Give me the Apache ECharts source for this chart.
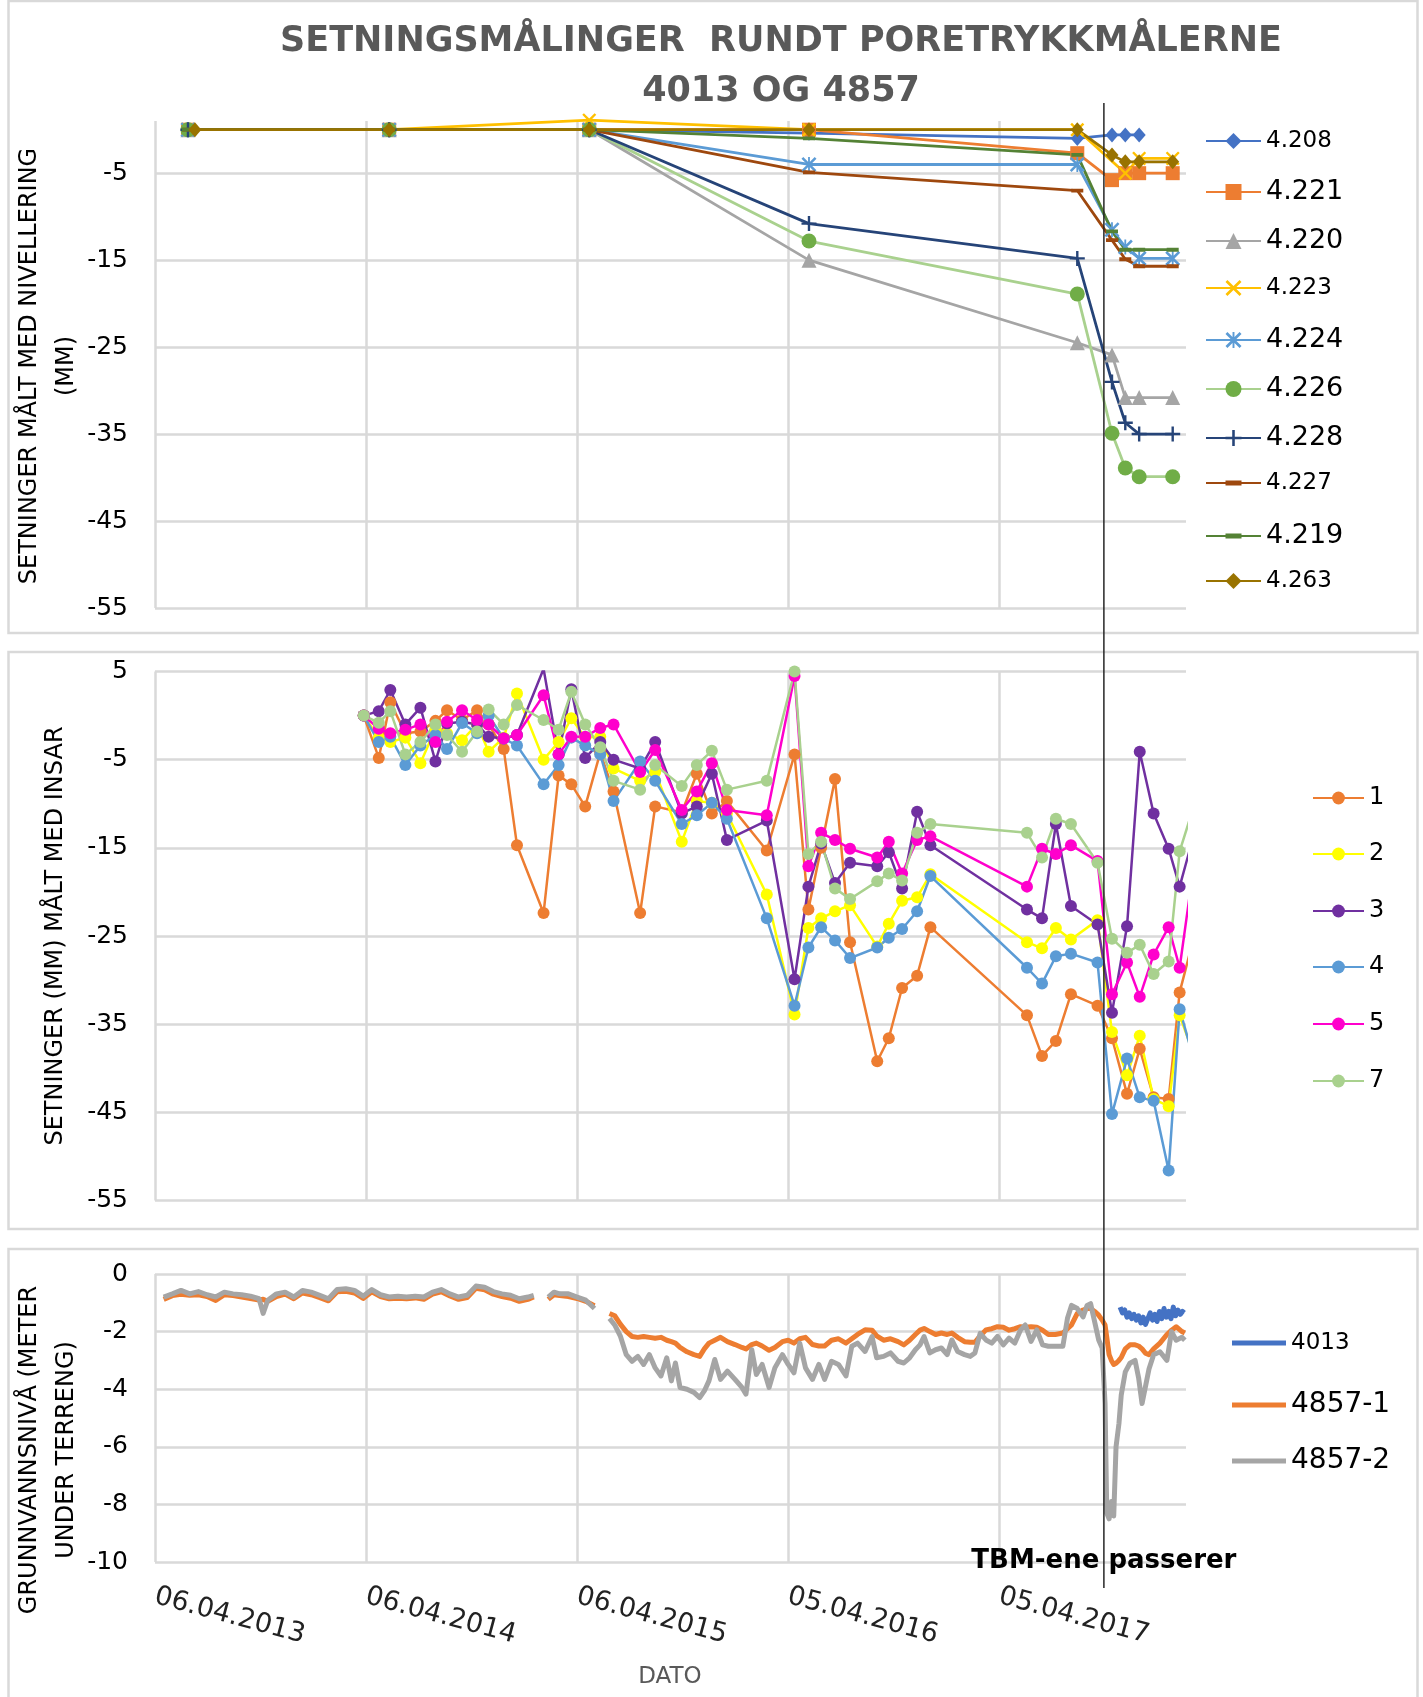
<!DOCTYPE html>
<html><head><meta charset="utf-8">
<script src="https://cdn.jsdelivr.net/npm/echarts@6/dist/echarts.min.js"></script>
<style>html,body{margin:0;padding:0;background:#fff}#c{width:1423px;height:1697px}</style>
</head><body><div id="c"></div>
<script>
// ---------- DATA ----------
const BASE_DATE = '2013-04-06';           // first x tick, day 0
const AXIS_END = '2018-02-22';
const TBM_DATE = '2017-10-03';
const xTickLabels = ['06.04.2013','06.04.2014','06.04.2015','05.04.2016','05.04.2017'];

// Panel 1: levelling
const levNames = ['4.208','4.221','4.220','4.223','4.224','4.226','4.228','4.227','4.219','4.263'];
const levDates = ['2013-06-02','2013-06-14','2014-05-16','2015-04-27','2016-05-11','2017-08-18','2017-10-17','2017-11-09','2017-12-03','2018-01-30'];
const lev4208 = [0, null, 0, 0, -0.4, -1.0, -0.6, -0.6, -0.6, null];
const lev4221 = [0, null, 0, 0, 0, -2.7, -5.8, -5.0, -5.0, -5.0];
const lev4220 = [0, null, 0, 0, -15.0, -24.5, -25.9, -30.8, -30.8, -30.8];
const lev4223 = [0, null, 0, 1.1, 0, 0, null, -5.0, -3.3, -3.3];
const lev4224 = [0, null, 0, 0, -4.0, -4.0, -11.5, -13.5, -14.8, -14.8];
const lev4226 = [0, null, 0, 0, -12.8, -18.9, -34.9, -38.9, -39.9, -39.9];
const lev4228 = [0, null, 0, 0, -10.8, -14.8, -29.0, -33.7, -35.0, -35.0];
const lev4227 = [0, null, 0, 0, -4.9, -7.0, -12.7, -14.9, -15.7, -15.7];
const lev4219 = [0, null, 0, 0, -1.0, -2.9, -11.7, -13.8, -13.8, -13.8];
const lev4263 = [null, 0, 0, 0, 0, 0, -2.9, -3.7, -3.7, -3.7];

// Panel 2: InSAR
const insarNames = ['1','2','3','4','5','7'];
const insarDates = ['2014-04-02','2014-04-28','2014-05-18','2014-06-13','2014-07-09','2014-08-04','2014-08-24','2014-09-19','2014-10-15','2014-11-04',
 '2014-11-30','2014-12-23','2015-02-07','2015-03-05','2015-03-27','2015-04-20','2015-05-16','2015-06-08','2015-07-24','2015-08-19',
 '2015-10-04','2015-10-30','2015-11-25','2015-12-21','2016-02-28','2016-04-16','2016-05-10','2016-06-01','2016-06-25','2016-07-21',
 '2016-09-06','2016-09-26','2016-10-19','2016-11-14','2016-12-07','2017-05-23','2017-06-18','2017-07-12','2017-08-07','2017-09-22',
 '2017-10-17','2017-11-12','2017-12-04','2017-12-28','2018-01-23','2018-02-11','2018-03-16'];
const insar1 = [0,-4.8,1.5,-2.0,-1.8,-0.6,0.6,-0.5,0.6,-1.0, -3.8,-14.7,-22.4,-6.8,-7.8,-10.3,-4.2,-8.6,-22.4,-10.3,
 -11.0,-6.6,-11.1,-9.7,-15.3,-4.4,-22.0,-15.0,-7.2,-25.7, -39.2,-36.6,-30.9,-29.5,-24.0,-34.0,-38.6,-36.9,-31.6,-32.9,
 -36.6,-42.9,-37.8,-43.3,-43.5,-31.4,-23.0];
const insar2 = [0,-2.5,-3.0,-2.5,-5.4,-1.5,-2.0,-2.8,-1.0,-4.1, -2.5,2.5,-5.0,-3.0,-0.3,-2.5,-2.4,-6.0,-7.4,-6.4,
 -14.3,-9.7,-9.9,-11.1,-20.3,-33.9,-24.1,-23.0,-22.2,-21.5, -26.2,-23.6,-21.0,-20.6,-18.0,-25.7,-26.4,-24.1,-25.4,-23.2,
 -35.9,-40.8,-36.3,-43.5,-44.3,-34.0,-40.0];
const insar3 = [0,0.5,2.9,-1.0,0.9,-5.2,-0.9,-0.7,-1.0,-2.4, -2.6,-2.2,5.3,-4.4,3.0,-4.8,-3.0,-5.0,-6.0,-3.0,
 -11.1,-10.3,-6.6,-14.1,-11.9,-29.9,-19.4,-14.5,-19.0,-16.7, -17.1,-15.5,-19.6,-10.9,-14.7,-22.0,-23.0,-12.3,-21.6,-23.7,
 -33.7,-23.9,-4.1,-11.1,-15.1,-19.4,-11.5];
const insar4 = [0,-3.0,-2.4,-5.6,-3.4,-2.2,-3.8,-0.85,-2.0,0.0, -2.6,-3.4,-7.8,-5.6,-2.5,-3.4,-4.4,-9.7,-5.2,-7.4,
 -12.3,-11.3,-9.9,-11.7,-23.0,-32.9,-26.3,-24.0,-25.5,-27.5, -26.3,-25.2,-24.2,-22.2,-18.2,-28.6,-30.4,-27.3,-27.0,-28.0,
 -45.2,-38.9,-43.3,-43.7,-51.6,-33.3,-41.0];
const insar5 = [0,-1.5,-2.0,-1.6,-1.0,-3.0,-0.7,0.6,-0.5,-1.0, -2.6,-2.2,2.3,-4.4,-2.4,-2.4,-1.4,-1.0,-6.4,-3.9,
 -10.7,-8.6,-5.4,-10.7,-11.3,4.5,-17.1,-13.3,-14.1,-15.1, -16.1,-14.3,-17.9,-14.1,-13.7,-19.4,-15.1,-15.7,-14.7,-16.5,
 -31.6,-28.0,-31.9,-27.1,-24.0,-28.6,-13.0];
const insar7 = [0,-0.8,0.5,-4.4,-3.0,-1.0,-2.2,-4.1,-1.8,0.7, -1.0,1.2,-0.5,-1.6,2.7,-1.0,-3.6,-7.4,-8.4,-5.6,
 -8.0,-5.6,-4.0,-8.4,-7.4,5.0,-15.7,-14.3,-19.6,-20.8, -18.8,-17.9,-18.7,-13.3,-12.3,-13.3,-16.1,-11.7,-12.3,-16.7,
 -25.3,-26.9,-26.0,-29.3,-27.9,-15.4,-8.5];

// Panel 3: groundwater (days counted from BASE_DATE)
const gwNames = ['4013','4857-1','4857-2'];
const gwDay = [15,30,45,60,75,90,105,120,135,150,165,180,187,195,210,225,240,255,270,285,300,315,330,345,360,375,390,405,420,435,450,465,480,495,510,525,540,555,570,585,600,615,630,645,655,670,680,690,
 700,715,730,745,760,775,786,795,805,815,825,835,845,855,865,875,885,893,900,908,920,932,942,950,958,968,978,990,1003,1015,1022,1032,1040,1050,1062,1072,1085,1095,1105,1115,1125,1137,1148,1158,1170,1182,1195,1205,1215,1228,1240,1248,1260,1272,1285,
 1295,1305,1315,1323,1330,1340,1350,1360,1370,1378,1388,1400,1410,1418,1427,1437,1447,1457,1467,1477,1487,1497,1505,1515,1525,1535,1545,1557,1570,1578,1585,1595,1605,1612,1618,1625,1632,1638,1643,1646,1650,1654,1658,1662,1667,1671,1678,1686,1695,1701,1707,1713,1719,1727,1738,1750,1758,1766,1776,1781];
const gw4857_1 = [-0.88,-0.75,-0.70,-0.74,-0.72,-0.78,-0.92,-0.72,-0.75,-0.80,-0.85,-0.90,-0.88,-0.95,-0.78,-0.70,-0.86,-0.66,-0.72,-0.82,-0.93,-0.62,-0.60,-0.66,-0.85,-0.62,-0.78,-0.86,-0.84,-0.86,-0.83,-0.88,-0.70,-0.62,-0.76,-0.88,-0.82,-0.50,-0.55,-0.70,-0.78,-0.84,-0.95,-0.88,-0.80,null,-0.88,-0.72,
 -0.75,-0.78,-0.85,-0.95,-1.10,null,-1.37,-1.45,-1.75,-2.00,-2.17,-2.20,-2.17,-2.20,-2.23,-2.20,-2.30,-2.35,-2.40,-2.55,-2.70,-2.80,-2.86,-2.60,-2.40,-2.30,-2.20,-2.35,-2.45,-2.55,-2.60,-2.45,-2.40,-2.50,-2.65,-2.55,-2.35,-2.30,-2.40,-2.25,-2.20,-2.45,-2.50,-2.50,-2.30,-2.25,-2.40,-2.25,-2.10,-1.94,-1.95,-2.15,-2.30,-2.25,-2.35,
 -2.46,-2.30,-2.10,-1.95,-1.89,-2.00,-2.10,-2.05,-2.10,-2.05,-2.20,-2.35,-2.37,-2.37,-2.15,-1.94,-1.90,-1.83,-1.85,-1.95,-1.90,-1.83,-1.85,-1.83,-1.85,-1.95,-2.10,-2.10,-2.05,-1.90,-1.77,-1.37,-1.25,-1.20,-1.20,-1.30,-1.43,-1.60,-1.77,-2.20,-2.80,-3.00,-3.14,-3.10,-3.00,-2.90,-2.60,-2.46,-2.46,-2.50,-2.60,-2.75,-2.80,-2.60,-2.40,-2.10,-1.95,-1.83,-2.00,-2.05];
const gw4857_2 = [-0.80,-0.69,-0.57,-0.69,-0.61,-0.72,-0.80,-0.63,-0.69,-0.72,-0.77,-0.86,-1.37,-0.91,-0.69,-0.63,-0.80,-0.57,-0.63,-0.74,-0.86,-0.54,-0.51,-0.57,-0.77,-0.54,-0.72,-0.80,-0.77,-0.80,-0.77,-0.80,-0.63,-0.54,-0.69,-0.80,-0.74,-0.42,-0.46,-0.61,-0.69,-0.74,-0.86,-0.80,-0.74,null,-0.80,-0.63,
 -0.69,-0.69,-0.80,-0.91,-1.20,null,-1.54,-1.77,-2.17,-2.80,-3.03,-2.86,-3.14,-2.80,-3.26,-3.54,-2.91,-3.71,-3.09,-3.94,-4.00,-4.11,-4.29,-4.06,-3.71,-2.97,-3.66,-3.37,-3.66,-3.94,-4.17,-2.63,-3.49,-3.14,-3.94,-3.26,-2.80,-3.14,-3.43,-2.40,-3.26,-3.66,-3.14,-3.66,-3.03,-3.14,-3.54,-2.51,-2.40,-2.69,-2.17,-2.91,-2.86,-2.74,-3.03,
 -3.09,-2.91,-2.63,-2.46,-2.17,-2.74,-2.63,-2.57,-2.80,-2.29,-2.69,-2.80,-2.86,-2.74,-2.06,-2.29,-2.40,-2.17,-2.46,-2.23,-2.40,-1.94,-1.77,-2.34,-1.94,-2.46,-2.51,-2.51,-2.51,-1.54,-1.09,-1.20,-1.49,-1.09,-1.03,-1.66,-2.29,-2.57,-4.50,-8.30,-8.50,-7.90,-8.40,-6.00,-5.20,-4.20,-3.40,-3.10,-3.00,-3.60,-4.50,-3.90,-3.30,-2.80,-2.70,-3.00,-2.00,-2.30,-2.20,-2.30];
const gw4013Day = [1669,1673,1677,1681,1685,1689,1693,1697,1701,1705,1709,1713,1717,1721,1725,1729,1733,1737,1741,1745,1749,1753,1757,1761,1765,1769,1773,1777,1780];
const gw4013 = [-1.15,-1.35,-1.25,-1.50,-1.35,-1.55,-1.40,-1.60,-1.45,-1.70,-1.50,-1.75,-1.55,-1.35,-1.60,-1.40,-1.65,-1.30,-1.55,-1.20,-1.50,-1.30,-1.55,-1.15,-1.45,-1.25,-1.40,-1.30,-1.35];

// ---------- HELPERS ----------
const FONT = '"DejaVu Sans", Verdana, sans-serif';
const DAYMS = 864e5;
const [by, bm, bd] = BASE_DATE.split('-').map(Number);
const BASE_UTC = Date.UTC(by, bm - 1, bd);
function dayOf(s) { const [y, m, d] = s.split('-').map(Number); return Math.round((Date.UTC(y, m - 1, d) - BASE_UTC) / DAYMS); }
const X_MAX = dayOf(AXIS_END);
const GRID_C = '#D9D9D9';

const SYM_X = 'path://M0,1.2L1.2,0L5,3.8L8.8,0L10,1.2L6.2,5L10,8.8L8.8,10L5,6.2L1.2,10L0,8.8L3.8,5Z';
const SYM_PLUS = 'path://M4.2,0H5.8V4.2H10V5.8H5.8V10H4.2V5.8H0V4.2H4.2Z';
const SYM_AST = 'path://M0,1.2L1.2,0L5,3.8L8.8,0L10,1.2L6.2,5L10,8.8L8.8,10L5,6.2L1.2,10L0,8.8L3.8,5Z M4.4,0H5.6V10H4.4Z';
const SYM_DASH = 'path://M0,3.4H10V6.6H0Z M5,0L5.01,0L5,0.01Z M5,10L5.01,10L5,9.99Z';

const levValues = [lev4208, lev4221, lev4220, lev4223, lev4224, lev4226, lev4228, lev4227, lev4219, lev4263];
const levStyle = [
  {line:'#4472C4', mark:'#4472C4', sym:'diamond', size:[13,15]},
  {line:'#ED7D31', mark:'#ED7D31', sym:'rect', size:14},
  {line:'#A5A5A5', mark:'#A5A5A5', sym:'triangle', size:15},
  {line:'#FFC000', mark:'#FFC000', sym:SYM_X, size:14},
  {line:'#5B9BD5', mark:'#5B9BD5', sym:SYM_AST, size:15},
  {line:'#A9D18E', mark:'#70AD47', sym:'circle', size:15},
  {line:'#264478', mark:'#264478', sym:SYM_PLUS, size:15},
  {line:'#9E480E', mark:'#9E480E', sym:SYM_DASH, size:12},
  {line:'#548235', mark:'#548235', sym:SYM_DASH, size:12},
  {line:'#997300', mark:'#997300', sym:'diamond', size:[13,15]}
];
const insarValues = [insar1, insar2, insar3, insar4, insar5, insar7];
const insarColors = ['#ED7D31', '#FFFF00', '#7030A0', '#5B9BD5', '#FF00CC', '#A9D18E'];
const gwColors = ['#4472C4', '#ED7D31', '#A5A5A5'];

const series = [];
levNames.forEach((n, i) => {
  const st = levStyle[i];
  series.push({
    name: n, type: 'line', xAxisIndex: 0, yAxisIndex: 0, clip: false,
    data: levDates.map((d, j) => [dayOf(d), levValues[i][j]]).filter(p => p[1] !== null),
    symbol: st.sym, symbolSize: st.size, showSymbol: true,
    lineStyle: {color: st.line, width: 2.8}, itemStyle: {color: st.mark}
  });
});
insarNames.forEach((n, i) => {
  series.push({
    name: n, type: 'line', xAxisIndex: 1, yAxisIndex: 1, clip: true,
    data: insarDates.map((d, j) => [dayOf(d), insarValues[i][j]]),
    symbol: 'circle', symbolSize: 12, showSymbol: true,
    lineStyle: {color: insarColors[i], width: 2.5}, itemStyle: {color: insarColors[i]}
  });
});
const gwData = [
  gw4013Day.map((d, j) => [d, gw4013[j]]),
  gwDay.map((d, j) => [d, gw4857_1[j] === null ? '-' : gw4857_1[j]]),
  gwDay.map((d, j) => [d, gw4857_2[j] === null ? '-' : gw4857_2[j]])
];
gwNames.forEach((n, i) => {
  series.push({
    name: n, type: 'line', xAxisIndex: 2, yAxisIndex: 2, clip: true, connectNulls: false,
    data: gwData[i], symbol: 'none', showSymbol: false,
    lineStyle: {color: gwColors[i], width: 5, join: 'round'}, itemStyle: {color: gwColors[i]}
  });
});

// ---------- LAYOUT ----------
const grids = [
  {left: 155, width: 1031, top: 121, height: 487},
  {left: 155, width: 1031, top: 671.5, height: 529},
  {left: 155, width: 1031, top: 1274, height: 288}
];
function xAxis(i) {
  return {
    type: 'value', gridIndex: i, min: 0, max: X_MAX, interval: 365,
    axisLine: {show: false}, axisTick: {show: false},
    splitLine: {show: true, showMinLine: true, showMaxLine: false, lineStyle: {color: GRID_C, width: 2.5}},
    axisLabel: i === 2 ? {
      show: true, rotate: -15, margin: 34, fontSize: 27, fontFamily: FONT, color: '#222', showMaxLabel: false,
      formatter: v => (v % 365 === 0 && v / 365 < xTickLabels.length) ? xTickLabels[v / 365] : ''
    } : {show: false}
  };
}
function yAxis(i, min, max, interval, hideMax) {
  return {
    type: 'value', gridIndex: i, min, max, interval,
    axisLine: {show: false}, axisTick: {show: false},
    splitLine: {show: true, showMinLine: true, showMaxLine: !hideMax, lineStyle: {color: GRID_C, width: 2.5}},
    axisLabel: {fontSize: 25, fontFamily: FONT, color: '#000', margin: 27, showMaxLabel: !hideMax}
  };
}

const legends = [];
const levLegendY = [141, 192, 241, 288, 340, 389, 438, 483, 536, 581];
const levBig = [false, true, true, false, true, true, true, false, true, false];
levNames.forEach((n, i) => legends.push({
  data: [n], left: 1205, top: levLegendY[i] - 15, padding: 0, itemWidth: 55, itemHeight: 20, selectedMode: false,
  textStyle: {fontFamily: FONT, fontSize: levBig[i] ? 27 : 23, color: '#000', lineHeight: 30}
}));
const insarLegendY = [798, 854, 911, 967, 1024, 1081];
insarNames.forEach((n, i) => legends.push({
  data: [n], left: 1312, top: insarLegendY[i] - 15, padding: 0, itemWidth: 51, itemHeight: 16, selectedMode: false,
  textStyle: {fontFamily: FONT, fontSize: 24, color: '#000', lineHeight: 30}
}));
const gwLegendY = [1343, 1405, 1461];
const gwLegendSize = [23, 28, 28];
gwNames.forEach((n, i) => legends.push({
  data: [{name: n, icon: 'rect'}], left: 1232, top: gwLegendY[i] - 15, padding: 0, itemWidth: 54, itemHeight: 5, selectedMode: false,
  textStyle: {fontFamily: FONT, fontSize: gwLegendSize[i], color: '#000', lineHeight: 30}
}));

const TITLE1 = 'SETNINGSMÅLINGER  RUNDT PORETRYKKMÅLERNE';
const TITLE2 = '4013 OG 4857';

const chart = echarts.init(document.getElementById('c'), null, {renderer: 'canvas', width: 1423, height: 1697});
chart.setOption({
  animation: false,
  backgroundColor: '#fff',
  title: {
    text: TITLE1 + '\n' + TITLE2, left: 781, top: 17, padding: 0, textAlign: 'center',
    textStyle: {fontFamily: FONT, fontWeight: 'bold', fontSize: 35, color: '#595959', lineHeight: 50}
  },
  grid: grids.map(g => Object.assign({outerBoundsMode: 'none', containLabel: false}, g)),
  xAxis: [xAxis(0), xAxis(1), xAxis(2)],
  yAxis: [yAxis(0, -55, 1, 10, true), yAxis(1, -55, 5, 10, false), yAxis(2, -10, 0, 2, false)],
  legend: legends,
  series: series
});

const tbmX = chart.convertToPixel({xAxisIndex: 0}, dayOf(TBM_DATE));
function vtext(x, y, t, size) {
  return {type: 'text', x, y, rotation: Math.PI / 2, z: 50,
    style: {text: t, font: size + 'px ' + FONT, fill: '#000', align: 'center', verticalAlign: 'middle'}};
}
chart.setOption({
  graphic: [
    {type: 'rect', z: 0, shape: {x: 8.5, y: 1, width: 1409, height: 632}, style: {fill: 'none', stroke: GRID_C, lineWidth: 2.5}},
    {type: 'rect', z: 0, shape: {x: 8.5, y: 652, width: 1409, height: 577}, style: {fill: 'none', stroke: GRID_C, lineWidth: 2.5}},
    {type: 'rect', z: 0, shape: {x: 8.5, y: 1249, width: 1409, height: 470}, style: {fill: 'none', stroke: GRID_C, lineWidth: 2.5}},
    vtext(30, 366, 'SETNINGER MÅLT MED NIVELLERING', 24),
    vtext(67, 366, '(MM)', 24),
    vtext(56, 936, 'SETNINGER (MM) MÅLT MED INSAR', 24),
    vtext(30, 1450, 'GRUNNVANNSNIVÅ (METER', 24),
    vtext(67, 1450, 'UNDER TERRENG)', 24),
    {type: 'text', x: 670, y: 1677, z: 50, style: {text: 'DATO', font: '23px ' + FONT, fill: '#595959', align: 'center', verticalAlign: 'middle'}},
    {type: 'line', z: 100, shape: {x1: tbmX, y1: 103, x2: tbmX, y2: 1588}, style: {stroke: '#262626', lineWidth: 1.5}},
    {type: 'text', x: tbmX, y: 1561, z: 90, style: {text: 'TBM-ene passerer', font: 'bold 26px ' + FONT, fill: '#000', align: 'center', verticalAlign: 'middle'}}
  ]
});
</script></body></html>
